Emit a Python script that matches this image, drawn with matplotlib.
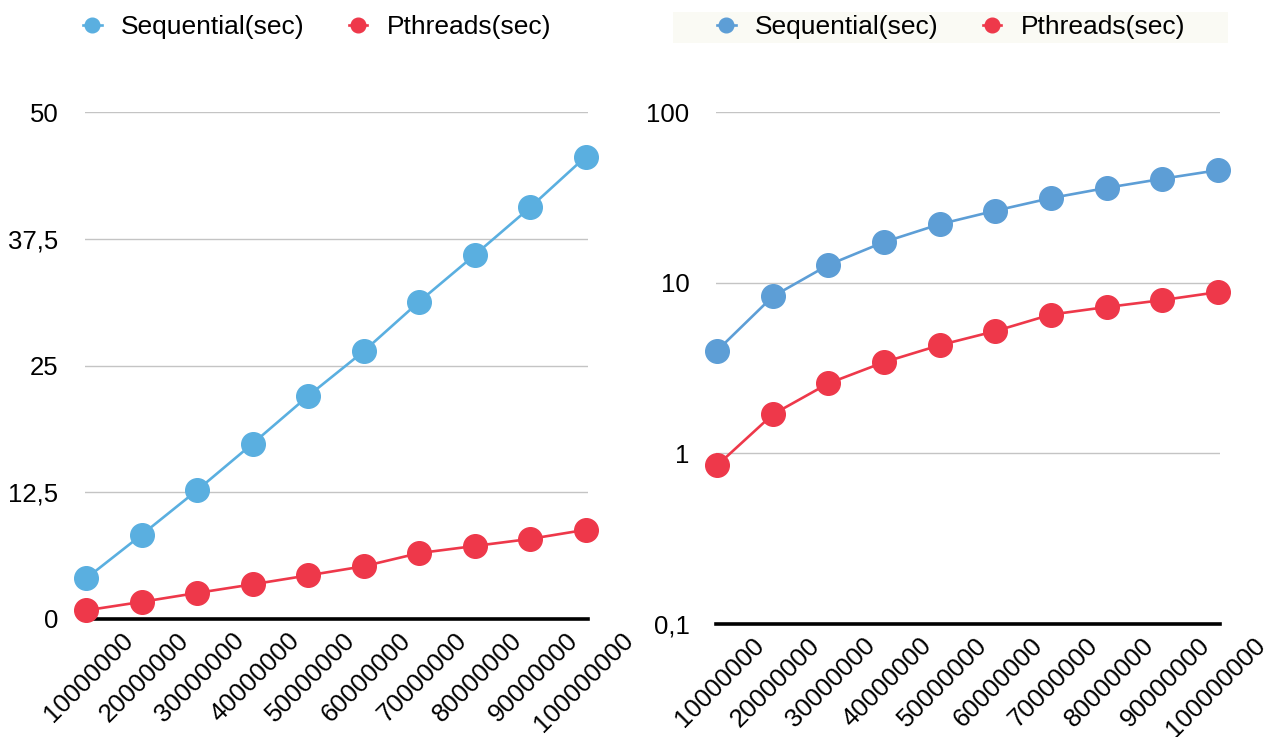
import numpy as np
import matplotlib.pyplot as plt
import matplotlib.transforms as mtransforms
from matplotlib.patches import Rectangle
from matplotlib.ticker import FixedLocator, NullLocator

plt.rcParams['font.family'] = ['Liberation Sans', 'DejaVu Sans']

# data
sizes = ['10000000', '20000000', '30000000', '40000000', '50000000',
         '60000000', '70000000', '80000000', '90000000', '100000000']
sequential = [4.0, 8.3, 12.7, 17.3, 22.0, 26.4, 31.3, 35.9, 40.6, 45.6]
pthreads = [0.85, 1.69, 2.57, 3.42, 4.3, 5.2, 6.5, 7.2, 7.9, 8.8]

lin_ticks = [0, 12.5, 25, 37.5, 50]
lin_labels = ['0', '12,5', '25', '37,5', '50']
log_ticks = [0.1, 1, 10, 100]
log_labels = ['0,1', '1', '10', '100']

W, H = 1276, 737
fig = plt.figure(figsize=(W / 100, H / 100), dpi=100)

def px_axes(x0, x1, ytop, ybot):
    return fig.add_axes([x0 / W, 1 - ybot / H, (x1 - x0) / W, (ybot - ytop) / H])

ax1 = px_axes(85, 588, 112, 619)
ax2 = px_axes(716, 1220, 112, 624)

red = '#ee384a'
x = np.arange(1, len(sizes) + 1)

def style(ax, blue, ticks, labels):
    ax.plot(x, sequential, '-o', color=blue, lw=1.9, ms=17, label='Sequential(sec)',
            zorder=3, clip_on=False)
    ax.plot(x, pthreads, '-o', color=red, lw=1.9, ms=17, label='Pthreads(sec)',
            zorder=3, clip_on=False)
    ax.yaxis.set_major_locator(FixedLocator(ticks))
    ax.yaxis.set_minor_locator(NullLocator())
    ax.set_yticklabels(labels)
    ax.grid(axis='y', color='#c4c4c4', lw=1.0)
    ax.set_axisbelow(True)
    for s in ['top', 'right', 'left']:
        ax.spines[s].set_visible(False)
    ax.spines['bottom'].set_linewidth(2.6)
    ax.spines['bottom'].set_color('black')
    ax.spines['bottom'].set_zorder(2)
    ax.set_xticks(x)
    ax.set_xticklabels(sizes)
    ax.set_xlim(0.98, 10.04)
    ax.tick_params(length=0, labelsize=18.5)
    ax.tick_params(axis='y', pad=19)
    ax.tick_params(axis='x', pad=0)
    offset = mtransforms.ScaledTranslation(35 / 100, -9 / 100, fig.dpi_scale_trans)
    for lab in ax.get_xticklabels():
        lab.set_rotation(45)
        lab.set_rotation_mode('anchor')
        lab.set_ha('right')
        lab.set_va('top')
        lab.set_transform(lab.get_transform() + offset)

style(ax1, '#5aafe0', lin_ticks, lin_labels)
ax1.set_ylim(0, 50)

ax2.set_yscale('log')
style(ax2, '#5d9ed6', log_ticks, log_labels)
ax2.set_ylim(0.1, 100)

leg_kw = dict(loc='center', bbox_transform=fig.transFigure, ncol=2, frameon=False,
              fontsize=19, markerscale=0.62, handlelength=0.7,
              handletextpad=0.72, columnspacing=1.7)
ax1.legend(bbox_to_anchor=(317 / W, 1 - 27 / H), **leg_kw)
ax2.legend(bbox_to_anchor=(951 / W, 1 - 27 / H), **leg_kw)

# light background band behind the right legend
fig.patches.append(Rectangle((673 / W, 1 - 43 / H), (1228 - 673) / W, 31 / H,
                             transform=fig.transFigure, facecolor='#fafaf4',
                             edgecolor='none', zorder=-1))

fig.savefig('out.png', dpi=100)
